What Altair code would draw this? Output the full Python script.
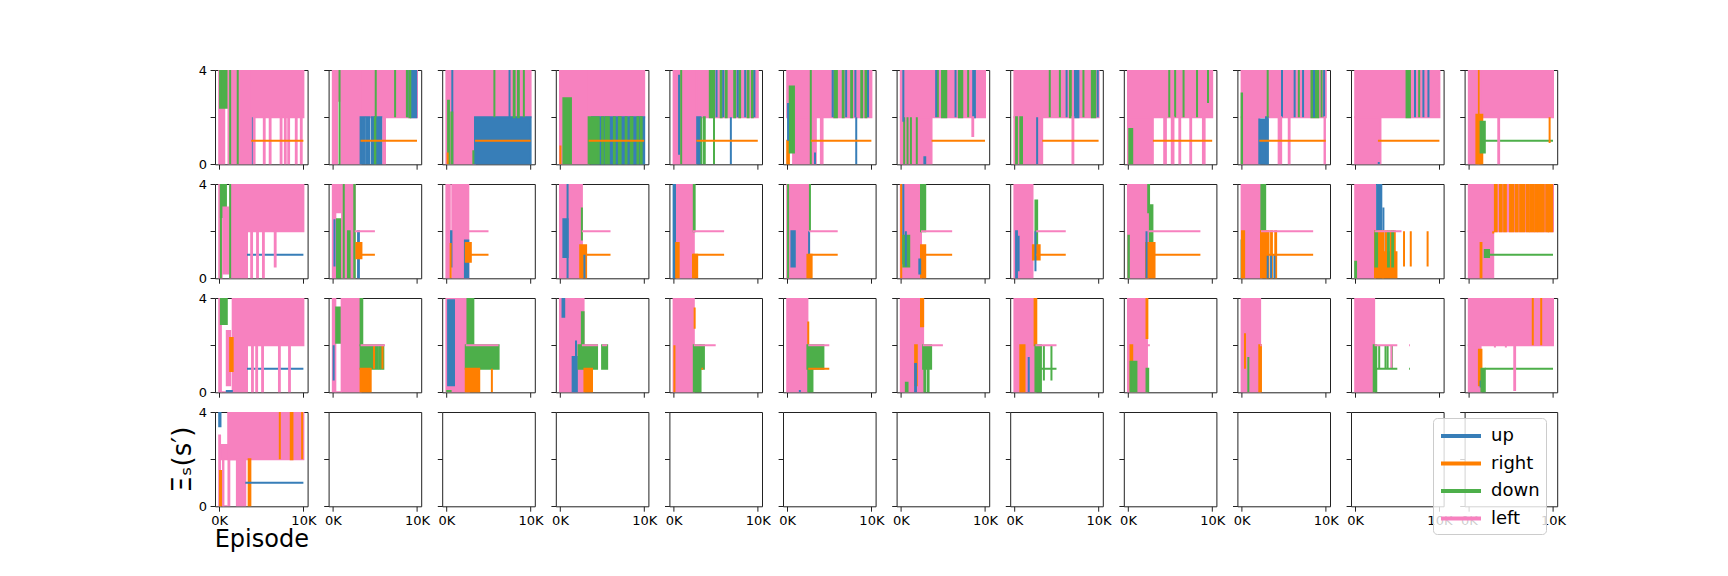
import altair as alt
import pandas as pd

ACTIONS = ["up", "right", "down", "left"]
COLORS = ["#377eb8", "#ff7f00", "#4daf4a", "#f781bf"]
CODE = {"u": "up", "r": "right", "d": "down", "l": "left"}

X_TICKS = [0, 10000]
X_LABELS = ["0K", "10K"]
Y_TICKS = [0, 2, 4]

# Each record: (action, episode start [K], episode end [K], value low, value high)
P = [
 # ---- row 1
 [("l",0,0.6,0,4),("d",0.1,1.0,2.4,4),("l",1.1,3.8,0,4),("l",3.8,10,2,4),("d",1.3,1.3,0,4),("d",2.2,2.2,0,4),
  ("u",4.0,4.0,0,2),("l",4.1,4.2,0,2),("l",5.3,5.4,0,2),("l",6.0,6.1,0,2),("l",7.3,7.4,0,2),("l",7.8,7.9,0,2),
  ("l",8.2,8.3,0,2),("l",9.1,9.2,0,2),("l",9.7,9.8,0,2),("r",3.8,10,1,1)],
 [("l",0,0.5,0,4),("l",0.5,1.0,2.7,4),("l",1.0,3.3,0,4),("l",3.3,10,2,4),("d",0.8,0.8,0,4),
  ("u",3.3,3.8,0,2),("u",4.0,4.3,0,2),("u",4.6,5.0,0,2),("u",5.1,5.8,0,2),("u",9.3,9.9,2,4),("u",8.9,8.9,2,4),
  ("d",5.1,5.1,2,4),("d",7.4,7.4,2,4),("d",8.8,8.8,2,4),("d",9.1,9.2,2,4),("d",5.0,5.05,0,2),
  ("l",6.0,6.2,0,2),("r",3.3,10,1,1)],
 [("l",0,0.2,0,4),("l",0.25,3.4,0,4),("l",3.4,10,2,4),("u",3.4,10,0,2),("u",0.7,0.7,0,4),
  ("d",0.2,0.3,0,2.7),("d",0.6,0.7,0,2.2),("d",3.2,3.2,0,0.6),("d",5.7,5.7,2,4),("d",8.0,8.1,2,4),
  ("d",8.5,8.6,2,4),("d",9.2,9.2,2,4),("u",7.5,7.5,2,4),("r",0.15,0.15,0,0.5),("r",3.4,10,1,1)],
 [("l",0,3.4,0,4),("l",3.4,10,2,4),("d",0.4,1.3,0,2.8),("u",3.8,10,0,2),("d",3.4,4.6,0,2),("d",5.0,5.1,0,2),
  ("d",5.4,5.8,0,2),("d",6.4,6.5,0,2),("d",7.0,7.2,0,2),("d",7.8,7.9,0,2),("d",8.4,8.6,0,2),("d",9.2,9.3,0,2),
  ("d",9.6,9.7,0,2),("r",0.05,0.05,0,0.8),("r",3.4,10,1,1)],
 [("l",0,2.7,0,4),("l",2.7,10,2,4),("u",0.65,0.65,0.4,3.8),("d",0.9,0.9,0,4),("u",2.8,3.2,0,2),("d",3.3,3.3,0,2),
  ("d",3.6,3.7,0,2),("d",4.8,4.8,0,2),("u",6.8,6.8,0,2),("d",4.3,4.8,2,4),("d",5.6,5.7,2,4),("d",6.2,6.3,2,4),
  ("d",7.2,7.3,2,4),("d",7.8,7.9,2,4),("d",8.8,8.9,2,4),("d",9.3,9.4,2,4),("u",5.1,5.1,2,4),("u",5.9,5.9,2,4),
  ("u",7.6,7.6,2,4),("u",8.5,8.5,2,4),("u",9.6,9.6,2,4),("r",2.7,10,1,1)],
 [("l",0,10,2,4),("l",0.7,3.4,0,2),("l",4.0,4.2,0,2),("r",0,0.2,0,1.0),("d",0.3,0.8,0.5,3.3),("u",0.1,0.1,1.0,2.6),
  ("d",2.8,2.8,0,4),("u",3.3,3.3,0,0.5),("u",8.2,8.2,0,2),("d",5.6,5.9,2,4),("d",6.6,6.7,2,4),("d",7.6,7.7,2,4),
  ("d",8.8,8.9,2,4),("d",9.3,9.4,2,4),("u",5.4,5.4,2,4),("u",7.0,7.0,2,4),("u",8.1,8.1,2,4),("u",9.6,9.6,2,4),
  ("r",2.8,10,1,1)],
 [("l",0,10,2,4),("l",0,3.65,0,2),("d",0.4,0.4,0,2),("d",0.8,0.8,0,2),("d",1.2,1.2,0,2),("d",1.9,1.9,0,2),
  ("u",2.8,2.9,0,0.3),("u",0.3,0.3,1.8,4),("d",4.4,4.4,2,4),("d",4.9,5.4,2,4),("d",6.9,7.3,2,4),("d",8.0,8.0,2,4),
  ("u",4.2,4.2,2,4),("u",6.5,6.5,2,4),("u",8.6,8.8,2,4),("l",8.5,8.6,1.2,2),("r",3.65,10,1,1)],
 [("l",0,10,2,4),("l",0,3.3,0,2),("d",0.2,0.3,0,2),("d",0.7,0.9,0,2),("u",2.7,2.7,0,2),("d",4.2,4.2,2,4),
  ("d",5.4,5.4,2,4),("d",6.6,6.7,2,4),("d",8.2,8.2,2,4),("d",9.2,9.6,2,4),("u",6.2,6.2,2,4),("u",7.2,7.6,2,4),
  ("u",9.9,9.9,2,4),("l",6.9,7.0,0,2),("r",3.3,10,1,1)],
 [("l",0,10,2,4),("l",0,2.95,0,2),("d",0.15,0.5,0,1.5),("d",4.9,4.9,2,4),("d",5.6,5.6,2,4),("d",6.6,6.6,2,4),
  ("d",8.2,8.2,2,4),("d",9.5,9.5,2.6,4),("l",4.3,4.5,0,2),("l",5.2,5.4,0,2),("l",6.1,6.2,0,2),("l",7.4,7.5,0,2),
  ("l",8.9,9.1,0,2),("r",2.95,10,1,1)],
 [("l",0,10,2,4),("l",0,2.1,0,2),("d",0,0.05,0,3),("u",2.1,3.1,0,1.9),("u",2.9,3.1,0,2),("d",3.1,3.1,2,4),
  ("d",6.8,6.8,2,4),("d",8.3,9.1,2,4),("d",9.5,9.5,2,4),("u",4.8,4.8,2,4),("u",6.3,6.3,2,4),("u",7.3,7.3,2,4),
  ("u",8.6,8.6,2,4),("u",9.8,9.8,2,4),("l",4.4,4.7,0,2),("l",5.6,5.7,0,2),("l",9.85,9.9,0,2),("r",2.1,10,1,1)],
 [("l",0,10,2,4),("l",0,3.0,0,2),("u",2.8,2.8,0,0.1),("d",6.1,6.5,2,4),("d",7.6,7.6,2,4),("u",7.1,7.1,2,4),
  ("u",8.1,8.1,2,4),("u",8.7,8.7,2,4),("r",2.7,10,1,1)],
 [("l",0,1.15,0,4),("r",1.2,1.3,0,4),("l",1.4,10,2,4),("r",0.9,1.6,0,2.1),("d",1.4,1.9,0.5,1.8),("d",1.6,10,1,1),
  ("l",3.5,3.6,0,2),("r",9.6,9.6,0.9,2)],
 # ---- row 2
 [("l",0,0.3,0,4),("d",0.2,0.8,2.6,4),("l",0.5,1.3,0.2,3.0),("l",1.3,3.3,0,4),("l",3.3,10,2,4),("d",1.3,1.3,0,4),
  ("d",0.2,0.2,0,4),("u",3.3,10,1,1),("l",3.8,3.9,0,2),("l",4.5,4.6,0,2),("l",5.2,5.3,0,2),("l",6.6,6.7,0.5,2)],
 [("l",0,0.3,0,4),("l",0.3,0.9,2.8,4),("d",0.5,1.2,0,2.5),("l",1.1,2.6,0,4),("d",1.3,1.3,0,4),("d",2.55,2.6,0,4),
  ("d",1.8,2.0,0,2),("u",3.0,3.1,0,2),("u",0.2,0.2,0.5,2.5),("r",2.8,3.4,0.85,1.5),("r",3.4,5.0,1,1),
  ("l",2.6,5.0,2,2)],
 [("l",0,0.4,0,4),("l",0.7,2.6,0,4),("u",0.55,0.6,0.5,2),("u",2.2,2.6,0,1.6),("r",0.5,0.5,0,1.5),
  ("r",2.3,2.9,0.7,1.5),("r",2.7,5.0,1,1),("l",2.6,5.0,2,2)],
 [("l",0,2.6,0,4),("u",0.4,0.9,0.9,2.5),("u",0.9,0.9,0,4),("d",2.6,2.6,1.6,3.0),("r",2.4,3.1,0,1.4),
  ("u",2.9,2.9,0,1),("l",2.6,6.0,2,2),("r",3.1,6.0,1,1)],
 [("u",0,0.8,0,4),("l",0.4,2.4,0,4),("r",0.3,0.6,0,1.5),("d",2.4,2.5,2,4),("r",2.3,2.8,0,1),("r",2.3,6.0,1,1),
  ("l",2.3,6.0,2,2)],
 [("l",0,2.6,0,4),("d",0.1,0.1,0,4),("u",0.5,0.9,0.5,2),("d",2.7,2.7,2,4),("u",2.6,2.6,0,2),("r",2.4,2.9,0,1),
  ("r",2.6,6.0,1,1),("l",2.6,6.0,2,2)],
 [("l",0,2.4,0,4),("r",0.05,0.05,0,4),("u",0.3,0.3,0.6,4),("d",0.3,1.0,0.5,1.8),("u",0.6,0.6,0.5,2),
  ("d",2.4,2.9,2,4),("r",2.4,2.9,0,1.4),("u",2.2,2.3,0.2,0.8),("l",2.4,6.1,2,2),("r",2.4,6.1,1,1)],
 [("l",0,2.15,0,4),("u",0.2,0.3,0,2),("u",0.5,0.5,0.3,1.8),("d",2.5,2.7,1.3,3.3),("r",2.2,3.0,0.8,1.4),
  ("u",2.5,2.5,0.3,2),("l",2.6,6.1,2,2),("r",2.6,6.1,1,1)],
 [("l",0,2.4,0,4),("d",0.05,0.1,0,1.8),("d",2.4,2.5,2.8,4),("d",2.6,2.9,1.2,3.1),("r",2.15,3.15,0,1.5),
  ("u",2.2,2.2,0,2),("l",2.5,8.6,2,2),("r",2.5,8.6,1,1)],
 [("l",0,2.35,0,4),("d",0,0.05,0,1.6),("r",0.05,0.3,0,2),("d",2.35,2.8,2,4),("r",2.3,2.9,0,2),("r",3.0,3.2,0,2),
  ("r",3.5,3.6,0,2),("r",4.0,4.1,0,2),("u",3.1,3.1,0,1),("u",3.5,3.5,0,1),("u",3.9,3.9,0,1),("l",2.3,8.5,2,2),
  ("r",2.3,8.5,1,1)],
 [("l",0,2.35,0,4),("d",0,0.1,0,0.7),("u",2.6,3.1,1,4),("u",3.35,3.35,1,3),("r",2.35,3.3,0,2),("r",3.3,4.9,0,1.1),
  ("r",3.6,3.7,1.1,2),("r",4.2,4.3,1.1,2),("r",4.6,4.7,1.1,2),("d",2.4,2.6,0.5,2),("d",3.9,4.0,0.5,2),
  ("d",4.4,4.5,0.5,2),("r",5.8,5.8,0.5,2),("r",6.6,6.6,0.5,2),("r",8.6,8.6,0.5,2),("l",2.3,5.5,2,2)],
 [("l",0,10,2,4),("l",0,2.9,0,2),("r",3.1,3.3,2,4),("r",3.7,3.9,2,4),("r",4.2,4.4,2,4),("r",4.9,5.3,2,4),
  ("r",5.6,5.8,2,4),("r",6.1,6.6,2,4),("r",6.9,7.1,2,4),("r",7.3,7.7,2,4),("r",7.9,8.1,2,4),("r",8.3,8.9,2,4),
  ("r",9.2,9.4,2,4),("r",9.5,9.9,2,4),("r",1.4,1.5,0,1.5),("r",2.9,2.9,1.9,2),("d",1.9,2.4,0.9,1.2),
  ("d",2.4,10,1,1)],
 # ---- row 3
 [("l",0,0.2,0,4),("d",0.2,0.9,2.9,4),("l",0.9,1.3,0.3,2.6),("l",1.6,3.3,0,4),("l",3.3,10,2,4),("l",0.2,1.5,0,0),
  ("r",1.3,1.6,0.9,2.3),("u",0.9,1.5,0,0.05),("u",3.3,10,1,1),("l",3.9,4.0,0,2),("l",4.4,4.5,0,2),
  ("l",5.1,5.2,0,2),("l",7.1,7.2,0,2),("l",8.3,8.4,0,2)],
 [("l",0,0.3,0,4),("d",0.4,1.0,2.1,3.6),("l",1.05,3.3,0,4),("l",0.3,1.05,0,0),("u",0.1,0.1,0.5,2),
  ("d",3.3,3.5,2,4),("d",3.3,5.3,1,2),("d",5.5,5.6,1,2),("d",5.8,6.0,1,2),("r",3.3,4.5,0,1),("r",4.9,4.9,1,2),
  ("r",5.9,5.9,1,2),("l",3.3,6.2,2,2)],
 [("l",0,2.7,0,4),("u",0.2,0.9,0.3,3.9),("d",2.5,3.2,2,4),("d",2.3,6.2,1,2),("r",2.3,3.9,0,1),("r",5.4,5.4,0,1),
  ("l",2.3,6.2,2,2),("d",0.1,0.5,0,0.05)],
 [("l",0,2.8,0,4),("u",0.3,0.5,3.2,4),("u",1.5,2.0,0,1.5),("u",1.9,1.9,0,2.2),("d",2.2,4.4,1,2),
  ("d",2.6,2.8,2,3.4),("d",5.0,5.6,1,2),("r",2.9,3.8,0,1),("l",2.6,4.5,2,2),("l",5.0,5.6,2,2)],
 [("l",0,2.4,0,4),("r",0.1,0.1,0,2),("r",2.5,2.5,2.7,3.6),("d",2.4,3.2,0,2),("d",3.2,3.6,1,2),
  ("r",3.3,3.5,1,1),("l",2.4,5.0,2,2)],
 [("l",0,2.4,0,4),("r",2.5,2.5,1,3),("d",2.4,4.3,1,2),("d",2.5,3.0,0,1),("u",1.5,1.5,0,0.1),
  ("r",2.5,5.0,1,1),("l",2.5,5.0,2,2)],
 [("l",0,2.65,0,4),("r",2.4,2.65,2.8,4),("r",1.7,1.9,0.3,2),("u",1.7,1.8,0,1.2),("d",0.6,0.8,0,0.4),
  ("d",2.65,3.6,1,2),("d",2.8,2.9,0,1),("d",3.2,3.3,0,1),("l",2.6,5.0,2,2),("r",5.0,5.0,1,1)],
 [("l",0,2.5,0,4),("r",2.4,2.6,2,4),("r",0.7,1.2,0,2),("u",1.7,1.7,0,1.5),("d",2.5,3.15,0,2),
  ("d",3.5,3.5,0.5,2),("d",4.4,4.4,0.5,2),("l",2.5,5.0,2,2),("d",2.5,5.0,1,1)],
 [("l",0,2.25,0,4),("r",2.2,2.3,2.3,4),("r",0.3,0.5,0.1,2),("d",0.3,1.0,0,1.3),("d",2.2,2.4,0,1),
  ("l",2.3,2.6,2,2)],
 [("l",0,2.2,0,4),("r",2.1,2.3,0,2),("r",0.4,0.4,1,2.5),("d",0.8,0.8,0,1.5),("l",2.2,2.4,2,2)],
 [("l",0,2.25,0,4),("d",2.2,2.5,0,2),("d",2.85,2.85,1,2),("d",3.6,3.6,1,2),("d",3.85,3.85,1,2),
  ("d",4.35,4.35,1,2),("l",4.3,4.3,1,2),("l",2.3,5.0,2,2),("d",2.3,5.0,1,1),("l",6.4,6.5,2,2),("d",6.4,6.5,1,1)],
 [("l",0,10,2,4),("l",0,1.4,0,2),("r",1.2,1.5,0.3,1.8),("u",1.4,1.4,0.2,0.5),("d",1.5,1.9,0,1),
  ("d",1.9,10,1,1),("l",5.4,5.5,0.1,2),("l",3.1,3.1,1.9,2),("l",4.4,4.4,1.9,2),("r",7.6,7.6,2,4),
  ("r",8.6,8.6,2,4)],
 # ---- row 4 (only first panel has data)
 [("u",0,0.15,3.4,4),("l",0,0.1,0,3),("r",0.1,0.25,0,1.5),("l",0.2,2.1,2.0,2.6),("l",1.1,2.1,2.6,4),
  ("l",2.1,3.1,0,4),("l",1.1,10,2,4),("l",0.4,1.0,0,0),("l",0.45,0.5,0,2),("l",1.1,1.2,0,2),
  ("r",7.2,7.2,2,4),("r",8.5,8.7,2,4),("r",9.85,9.85,2,4),("r",3.5,3.7,0,2),("u",3.1,10,1,1)],
]

rows = []
for i, recs in enumerate(P):
    for k, (a, x0, x1, y0, y1) in enumerate(recs):
        rows.append({"p": i, "k": k, "a": CODE[a], "x0": x0 * 1000, "x1": x1 * 1000, "y0": y0, "y1": y1})
df = pd.DataFrame(rows)

NR, NC = 4, 12
W, H = 92.6, 94.3
FONT = "DejaVu Sans"

xscale = alt.Scale(domain=[-500, 10500], nice=False, zero=False)
yscale = alt.Scale(domain=[0, 4], nice=False, zero=False)


def panel(r, c):
    i = r * NC + c
    first = (r == NR - 1 and c == 0)
    xaxis = alt.Axis(values=X_TICKS, labels=(r == NR - 1),
                     labelExpr="datum.value == 0 ? '" + X_LABELS[0] + "' : '" + X_LABELS[1] + "'",
                     title="Episode" if first else None, grid=False, domain=False)
    yaxis = alt.Axis(values=Y_TICKS, labels=(c == 0),
                     labelExpr="datum.value == 2 ? '' : datum.label",
                     title="Ξₛ(s′)" if first else None, grid=False, domain=False)
    return (
        alt.Chart(df)
        .transform_filter(alt.datum.p == i)
        .mark_rect(filled=False, strokeWidth=2, opacity=1, clip=True)
        .encode(
            x=alt.X("x0:Q", scale=xscale, axis=xaxis),
            x2="x1:Q",
            y=alt.Y("y0:Q", scale=yscale, axis=yaxis),
            y2="y1:Q",
            color=alt.Color("a:N", scale=alt.Scale(domain=ACTIONS, range=COLORS),
                            legend=alt.Legend(title=None, orient="none", legendX=1218, legendY=348,
                                              symbolType="M-1,0L3,0", symbolStrokeWidth=4, symbolSize=400,
                                              labelFontSize=18, labelFont=FONT, labelColor="#000",
                                              fillColor="rgba(255,255,255,0.8)", strokeColor="#cccccc",
                                              cornerRadius=4, padding=6, rowPadding=6.5, labelOffset=28)),
            fill=alt.Fill("a:N", scale=alt.Scale(domain=ACTIONS, range=COLORS), legend=None),
            order=alt.Order("k:Q"),
        )
        .properties(width=W, height=H)
    )


grid = alt.concat(
    *[panel(r, c) for r in range(NR) for c in range(NC)],
    columns=NC, spacing={"row": 19, "column": 20.6}, bounds="flush",
)

chart = (
    grid.properties(padding={"left": 160, "top": 55, "right": 5, "bottom": 5}, background="white")
    .configure_view(stroke="#222", strokeWidth=1)
    .configure_axis(tickColor="#222", tickSize=4.9, tickWidth=1, labelFontSize=13, labelFont=FONT,
                    labelColor="#000", labelPadding=3.5, titleFont=FONT, titleFontSize=24,
                    titleFontWeight="normal", titleColor="#000")
    .configure_axisX(titlePadding=0)
    .configure_axisY(titlePadding=3, titleFontSize=26)
)

chart.save("out.html", embed_options={"renderer": "svg", "actions": False})
